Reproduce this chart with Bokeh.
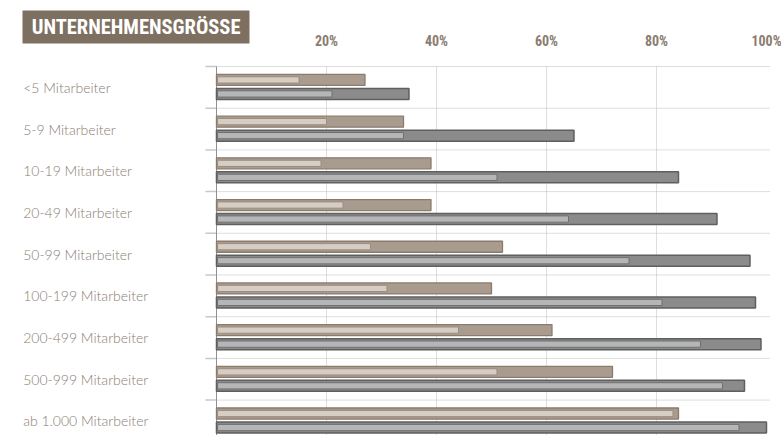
from bokeh.plotting import figure
from bokeh.models import Range1d
from bokeh.core.properties import value
from bokeh.embed import file_html
from bokeh.resources import INLINE

# ---- data ----
categories = ["<5 Mitarbeiter", "5-9 Mitarbeiter", "10-19 Mitarbeiter", "20-49 Mitarbeiter",
              "50-99 Mitarbeiter", "100-199 Mitarbeiter", "200-499 Mitarbeiter",
              "500-999 Mitarbeiter", "ab 1.000 Mitarbeiter"]
beige_inner = [15, 20, 19, 23, 28, 31, 44, 51, 83]
beige_outer = [27, 34, 39, 39, 52, 50, 61, 72, 84]
grey_inner = [21, 34, 51, 64, 75, 81, 88, 92, 95]
grey_outer = [35, 65, 84, 91, 97, 98, 99, 96, 100]
tick_values = [20, 40, 60, 80, 100]
tick_labels = ["20%", "40%", "60%", "80%", "100%"]
title_text = "UNTERNEHMENSGRÖSSE"

n = len(categories)
rows = list(range(n))

COND = "'Roboto Condensed', 'DejaVu Sans Condensed', Roboto"
LIGHT = "'Lato Light', Lato"

# frame covers whole canvas; x: 5.5 px per %, 0% at 216px; y: 41.7 px per row, row 0 top at 66px
X0, XMAX = -39.27, 102.73
YTOP, YBOT = -1.583, 8.849
p = figure(width=781, height=435, output_backend="svg", toolbar_location=None,
           x_range=Range1d(X0, XMAX), y_range=Range1d(YBOT, YTOP),
           min_border=0)
p.outline_line_color = None
p.axis.visible = False
p.grid.visible = False
p.background_fill_color = "white"
p.border_fill_color = "white"

# vertical dotted gridlines
grid_x = tick_values[:-1]
p.segment(x0=grid_x, x1=grid_x, y0=0, y1=YBOT, line_color="#bdbdbd",
          line_dash="1 1", line_width=1)
# row separators: dotted part + solid tick
p.segment(x0=0, x1=100.7, y0=rows, y1=rows, line_color="#bdbdbd",
          line_dash="1 1", line_width=1)
p.segment(x0=-2.0, x1=0, y0=rows, y1=rows, line_color="#c8c8c8", line_width=1.5)
# left axis line
p.segment(x0=[0], x1=[0], y0=[0], y1=[YBOT], line_color="#8f8f8f", line_width=1)

yb = [i + 0.322 for i in rows]
yg = [i + 0.658 for i in rows]

# beige bars
p.hbar(y=yb, left=0, right=beige_outer, height=0.264,
       fill_color="#a99c8f", line_color="#8a7b6d", line_width=1.3)
p.hbar(y=yb, left=0.2, right=beige_inner, height=0.15,
       fill_color="#d6cdc4", line_color="#9b8d80", line_width=1)
# grey bars
p.hbar(y=yg, left=0, right=grey_outer, height=0.264,
       fill_color="#8b8b8b", line_color="#5f5f5f", line_width=1.5)
p.hbar(y=yg, left=0.2, right=grey_inner, height=0.15,
       fill_color="#b5b6b8", line_color="#6f6f6f", line_width=1)

# top tick labels
p.text(x=tick_values, y=-0.6, text=tick_labels, text_font=value(COND),
       text_font_style="bold", text_font_size="14px", text_color="#8a7d70",
       text_align="center", text_baseline="middle")

# category labels
p.text(x=-35.15, y=[i + 0.5 for i in rows], text=categories, text_font=value(LIGHT),
       text_font_size="14px", text_color="#8a7e74", text_align="left", text_baseline="middle")

# title box
p.quad(left=[-35.27], right=[6.0], top=[-1.343], bottom=[-0.552],
       fill_color="#7e7061", line_color=None)
p.text(x=[-33.6], y=[-0.947], text=[title_text], text_font=value(COND),
       text_font_style="bold", text_font_size="20.5px", text_color="white",
       text_align="left", text_baseline="middle")

open("out.html", "w").write(file_html(p, INLINE))
